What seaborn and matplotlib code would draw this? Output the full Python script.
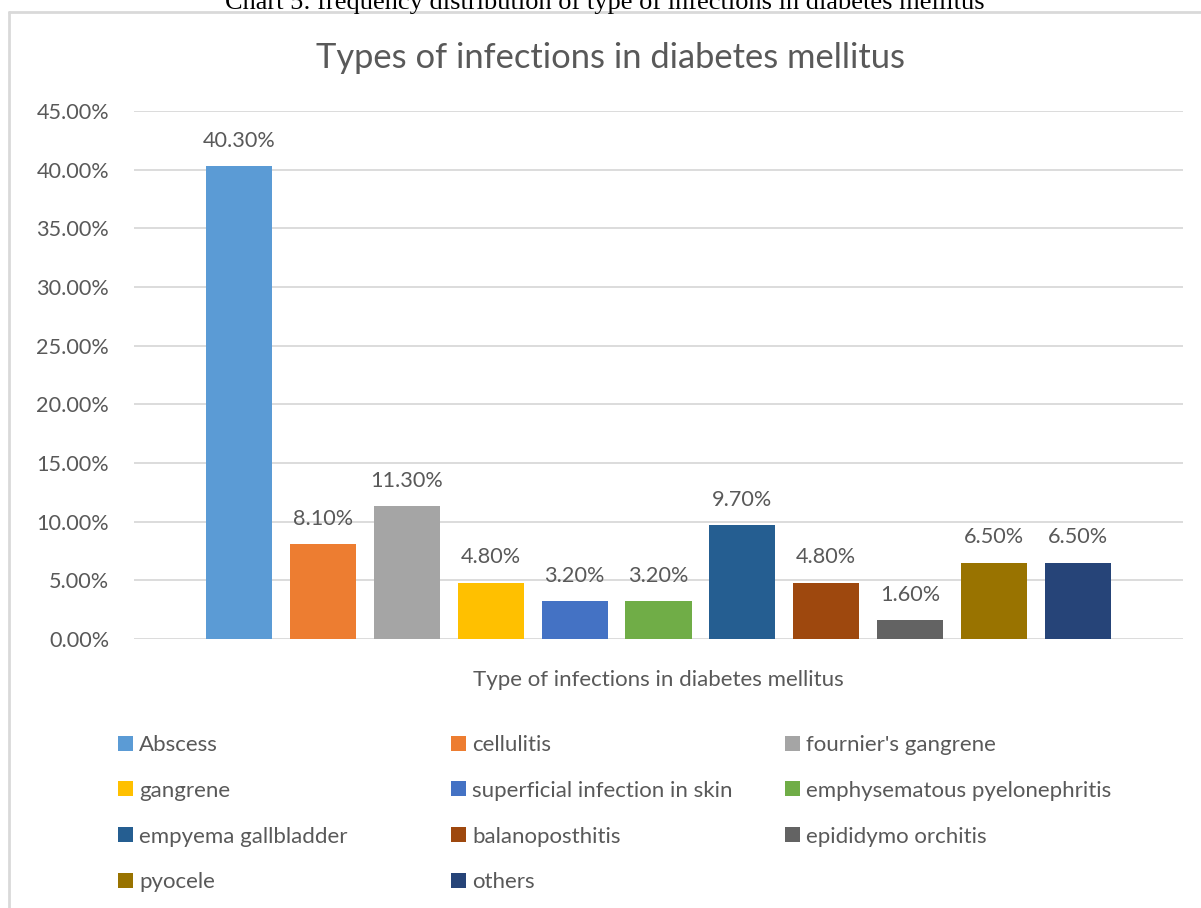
import matplotlib
matplotlib.use("Agg")
import matplotlib.pyplot as plt
from matplotlib.lines import Line2D
from matplotlib.patches import Patch
from matplotlib.ticker import FuncFormatter
import pandas as pd
import seaborn as sns

categories = [
    "Abscess", "cellulitis", "fournier's gangrene", "gangrene",
    "superficial infection in skin", "emphysematous pyelonephritis",
    "empyema gallbladder", "balanoposthitis", "epididymo orchitis",
    "pyocele", "others",
]
percentages = [40.30, 8.10, 11.30, 4.80, 3.20, 3.20, 9.70, 4.80, 1.60, 6.50, 6.50]
colors = [
    "#5B9BD5", "#ED7D31", "#A5A5A5", "#FFC000", "#4472C4", "#70AD47",
    "#255E91", "#9E480E", "#636363", "#997300", "#264478",
]
y_ticks = [0, 5, 10, 15, 20, 25, 30, 35, 40, 45]

TEXT = "#595959"
GRID = "#D9D9D9"
FONT = "Lato"

sns.set_theme(style="white")
plt.rcParams["font.family"] = [FONT, "DejaVu Sans"]

df = pd.DataFrame({"infection": categories, "share": percentages})
palette = dict(zip(categories, colors))

fig = plt.figure(figsize=(12.01, 9.08), dpi=100)
W, H = 1201, 908
ax = fig.add_axes([134 / W, 1 - 639 / H, (1183 - 134) / W, (639 - 111) / H])

sns.barplot(data=df, x="infection", y="share", hue="infection",
            palette=palette, order=categories, hue_order=categories,
            width=0.787, saturation=1, legend=False, ax=ax, zorder=3,
            linewidth=0)

ax.set_xlim(-1.25, 11.25)
ax.set_ylim(0, 45)
ax.set_yticks(y_ticks)
ax.yaxis.set_major_formatter(FuncFormatter(lambda v, _: f"{v:.2f}%"))
ax.tick_params(axis="y", length=0, pad=18, labelsize=15.6, labelcolor=TEXT)
ax.set_xticks([])
ax.grid(axis="y", color=GRID, linewidth=1.3, zorder=0)
for side in ax.spines.values():
    side.set_visible(False)
ax.set_ylabel("")
ax.set_xlabel("Type of infections in diabetes mellitus", fontsize=16,
              color=TEXT, labelpad=22)

# value labels above each bar
for container, value in zip(ax.containers, percentages):
    ax.bar_label(container, labels=[f"{value:.2f}%"], padding=11,
                 fontsize=15.6, color=TEXT)

fig.text(610 / W, 1 - 58 / H, "Types of infections in diabetes mellitus",
         ha="center", va="center", fontsize=24.8, color=TEXT)

# caption of the figure, partly above the page edge
fig.text(605 / W, 1 - 9 / H,
         "Chart 5: frequency distribution of type of infections in diabetes mellitus",
         ha="center", va="baseline", fontsize=19, color="black",
         family="Liberation Serif")

# chart frame
fig.add_artist(Line2D([9 / W, 1.0], [1 - 12 / H, 1 - 12 / H],
                      transform=fig.transFigure, color=GRID, linewidth=2))
fig.add_artist(Line2D([9 / W, 9 / W], [0, 1 - 12 / H],
                      transform=fig.transFigure, color=GRID, linewidth=2))

# legend laid out in three columns, filled row by row
handles = [Patch(facecolor=c, edgecolor="none") for c in colors]
col_x = [118, 451, 785]
for col in range(3):
    idx = list(range(col, len(categories), 3))
    fig.legend([handles[i] for i in idx], [categories[i] for i in idx],
               loc="upper left", bbox_to_anchor=(col_x[col] / W, 1 - 735 / H),
               frameon=False, fontsize=16, handlelength=0.66,
               handleheight=0.66, handletextpad=0.3, labelspacing=1.16,
               borderpad=0, borderaxespad=0, labelcolor=TEXT)

fig.savefig("out.png", dpi=100)
